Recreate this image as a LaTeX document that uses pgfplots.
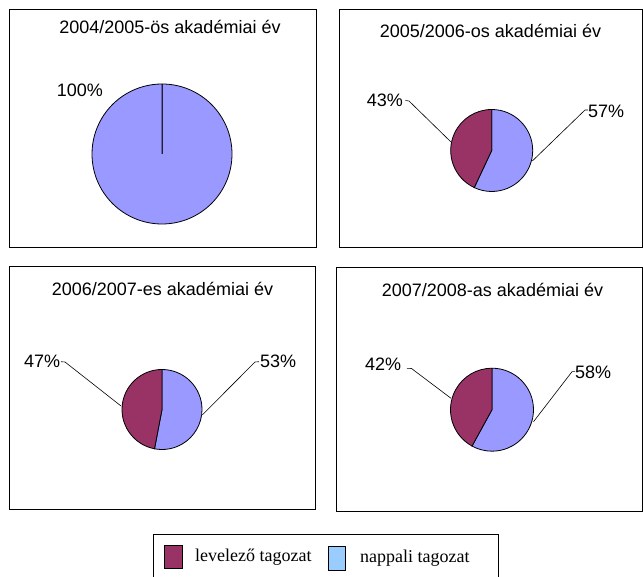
\documentclass[border=0pt]{standalone}
\usepackage{fontspec}
\setmainfont{Liberation Sans}
\newfontfamily\legfont{Liberation Serif}
\usepackage{pgfplots}
\usepackage{pgfplotstable}
\pgfplotsset{compat=1.18}

\definecolor{levcol}{HTML}{993366}
\definecolor{napcol}{HTML}{9999FF}
\definecolor{naplegend}{HTML}{99CCFF}

% one slice of a pie, drawn at the data point (units: 1 px = 1 pt)
\pgfdeclareplotmark{wedge}{%
  \pgfmathsetmacro\wsa{90-3.6*\pcoff}%
  \pgfmathsetmacro\wea{90-3.6*(\pcoff+\pcval)}%
  \pgfpathmoveto{\pgfpointorigin}%
  \pgfpathlineto{\pgfpointpolar{\wsa}{\pcrad pt}}%
  \pgfpatharc{\wsa}{\wea}{\pcrad pt}%
  \pgfpathclose
  \pgfusepathqfillstroke
}

% cx cy = pie centre, r = radius, off = share already drawn, pct = share
\pgfplotstableread{
cx    cy    r    off pct
162   423   70   0   100
491.7 426.5 41   0   57
162   167.5 40   0   53
492   167.3 41.5 0   58
}\nappali
\pgfplotstableread{
cx    cy    r    off pct
162   423   70   100 0
491.7 426.5 41   57  43
162   167.5 40   53  47
492   167.3 41.5 58  42
}\levelezo

\pgfplotsset{
  pie/.style={
    scatter, only marks, mark=wedge,
    point meta=\thisrow{pct},
    visualization depends on={\thisrow{off} \as \pcoff},
    visualization depends on={\thisrow{pct} \as \pcval},
    visualization depends on={\thisrow{r} \as \pcrad},
    scatter/use mapped color={draw=black, fill=#1},
    mark options={line width=0.8pt},
  },
}

\begin{document}
\begin{tikzpicture}
\begin{axis}[
    x=1pt, y=1pt,
    xmin=0, xmax=643, ymin=0, ymax=577,
    hide axis, clip=false,
    at={(0,0)}, anchor=south west,
]
\addplot[pie=napcol] table[x=cx, y=cy] {\nappali};
\addplot[pie=levcol] table[x=cx, y=cy] {\levelezo};

% frames
\draw[line width=1pt] (axis cs:9,567) rectangle (axis cs:316,329);
\draw[line width=1pt] (axis cs:339,567) rectangle (axis cs:642.3,329);
\draw[line width=1pt] (axis cs:9,310) rectangle (axis cs:315,67);
\draw[line width=1pt] (axis cs:336,309) rectangle (axis cs:642.3,65);

% titles
\begin{scope}[every node/.style={inner sep=0pt, anchor=base, font=\fontsize{18}{20}\selectfont}]
\node at (axis cs:170,543.7) {2004/2005-ös akadémiai év};
\node at (axis cs:490.5,539) {2005/2006-os akadémiai év};
\node at (axis cs:162.5,281.3) {2006/2007-es akadémiai év};
\node at (axis cs:492.5,280.3) {2007/2008-as akadémiai év};
\end{scope}

% data labels
\begin{scope}[every node/.style={inner sep=0pt, anchor=base west, font=\fontsize{18}{20}\selectfont}]
\node at (axis cs:56.7,480.3) {100\%};
\node at (axis cs:366.7,470) {43\%};
\node at (axis cs:588,459) {57\%};
\node at (axis cs:24,209.3) {47\%};
\node at (axis cs:260,209.3) {53\%};
\node at (axis cs:365,206.3) {42\%};
\node at (axis cs:575,198) {58\%};
\end{scope}

% leader lines
\begin{scope}[line width=0.6pt]
\draw (axis cs:405.5,476.5) -- (axis cs:409,476) -- (axis cs:451,435);
\draw (axis cs:588,467) -- (axis cs:585,467) -- (axis cs:532.3,416);
\draw (axis cs:61,215.3) -- (axis cs:65,215) -- (axis cs:121,171);
\draw (axis cs:259,215.3) -- (axis cs:255,215) -- (axis cs:202.3,162);
\draw (axis cs:407,208.7) -- (axis cs:411.5,208.5) -- (axis cs:451,178.7);
\draw (axis cs:575,205.3) -- (axis cs:572,205.3) -- (axis cs:533.5,155.3);
\end{scope}

% legend
\draw[line width=1pt] (axis cs:153,42) rectangle (axis cs:498,-10);
\draw[fill=levcol, line width=0.6pt] (axis cs:164,32) rectangle (axis cs:182,9);
\draw[fill=naplegend, line width=0.6pt] (axis cs:328,30.3) rectangle (axis cs:345,7);
\node[inner sep=0pt, anchor=base west, font=\legfont\fontsize{18}{20}\selectfont]
  at (axis cs:195,15.3) {levelező tagozat};
\node[inner sep=0pt, anchor=base west, font=\legfont\fontsize{18}{20}\selectfont]
  at (axis cs:360,14.3) {nappali tagozat};

\coordinate (bbsw) at (axis cs:0,0);
\coordinate (bbne) at (axis cs:643,577);
\end{axis}
\pgfresetboundingbox
\path[use as bounding box] (bbsw) rectangle (bbne);
\end{tikzpicture}
\end{document}
